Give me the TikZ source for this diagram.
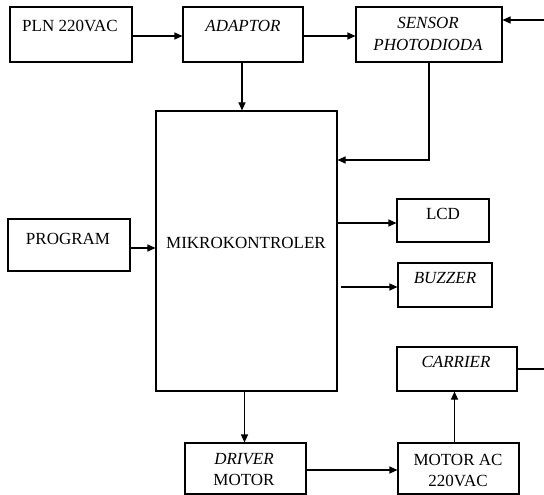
\documentclass[tikz,border=0pt]{standalone}
\usepackage{fontspec}
\setmainfont{Liberation Serif}
\usetikzlibrary{arrows.meta}
\begin{document}
\begin{tikzpicture}[x=1pt,y=-1pt,
  box/.style={draw, line width=1.1pt, inner sep=0pt},
  lbl/.style={anchor=base, inner sep=0pt, font=\fontsize{17}{19}\selectfont},
  ilbl/.style={lbl, font=\fontsize{17}{19}\selectfont\itshape},
  arr/.style={line width=1.1pt, -{Triangle[length=8pt,width=7pt]}},
  ln/.style={line width=1.1pt}]
\useasboundingbox (0,0) rectangle (544,495);
% boxes
\node[box, minimum width=122, minimum height=55] (pln) at (71,34.5) {};
\node[box, minimum width=120, minimum height=55] (adp) at (243,34.5) {};
\node[box, minimum width=146, minimum height=55] (sen) at (429,34.5) {};
\node[box, minimum width=181, minimum height=280] (mik) at (246.5,251) {};
\node[box, minimum width=122, minimum height=52] (prg) at (69,245) {};
\node[box, minimum width=92, minimum height=43] (lcd) at (443,220.5) {};
\node[box, minimum width=94, minimum height=44] (buz) at (445,285) {};
\node[box, minimum width=120, minimum height=44] (car) at (457,369) {};
\node[box, minimum width=121, minimum height=51] (drv) at (245.5,468.5) {};
\node[box, minimum width=121, minimum height=51] (mot) at (458.5,468.5) {};
% labels
\node[lbl] (plnt) at (70,32) {PLN 220VAC};
\node[ilbl] (adpt) at (243,32) {ADAPTOR};
\node[ilbl] (sent1) at (428,29) {SENSOR};
\node[ilbl] (sent2) at (428,51) {PHOTODIODA};
\node[lbl] (mikt) at (246,248) {MIKROKONTROLER};
\node[lbl] (prgt) at (68,244) {PROGRAM};
\node[lbl] (lcdt) at (443,219) {LCD};
\node[ilbl] (buzt) at (445,283) {BUZZER};
\node[ilbl] (cart) at (456,367) {CARRIER};
\node[ilbl] (drvt1) at (244,464) {DRIVER};
\node[lbl] (drvt2) at (244,485) {MOTOR};
\node[lbl] (mott1) at (458,465) {MOTOR AC};
\node[lbl] (mott2) at (458,486) {220VAC};
% connectors
\draw[arr] ([yshift=-1.5pt]pln.east) -- ([yshift=-1.5pt]adp.west);
\draw[arr] ([yshift=-1.5pt]adp.east) -- ([yshift=-1.5pt]sen.west);
\draw[arr] ([xshift=-1pt]adp.south) -- ([xshift=-1pt]adp.south |- mik.north);
\coordinate (sc) at (429,160);
\draw[arr] (sen.south) -- (sc) -- (sc -| mik.east);
\coordinate (fbtop) at (560,20);
\draw[arr] (car.east) -| (fbtop) -- (fbtop -| sen.east);
\draw[arr] ([yshift=-3pt]prg.east) -- ([yshift=-3pt]prg.east -| mik.west);
\draw[arr] ([yshift=-2.5pt]mik.east |- lcd.west) -- ([yshift=-2.5pt]lcd.west);
\draw[arr] ([xshift=3pt,yshift=-2pt]mik.east |- buz.west) -- ([yshift=-2pt]buz.west);
\draw[arr] ([xshift=-1pt]drv.north |- mik.south) -- ([xshift=-1pt]drv.north);
\draw[arr] ([yshift=-1.5pt]drv.east) -- ([yshift=-1.5pt]mot.west);
\draw[arr] ([xshift=-4pt]mot.north) -- ([xshift=-4pt]mot.north |- car.south);
\end{tikzpicture}
\end{document}
